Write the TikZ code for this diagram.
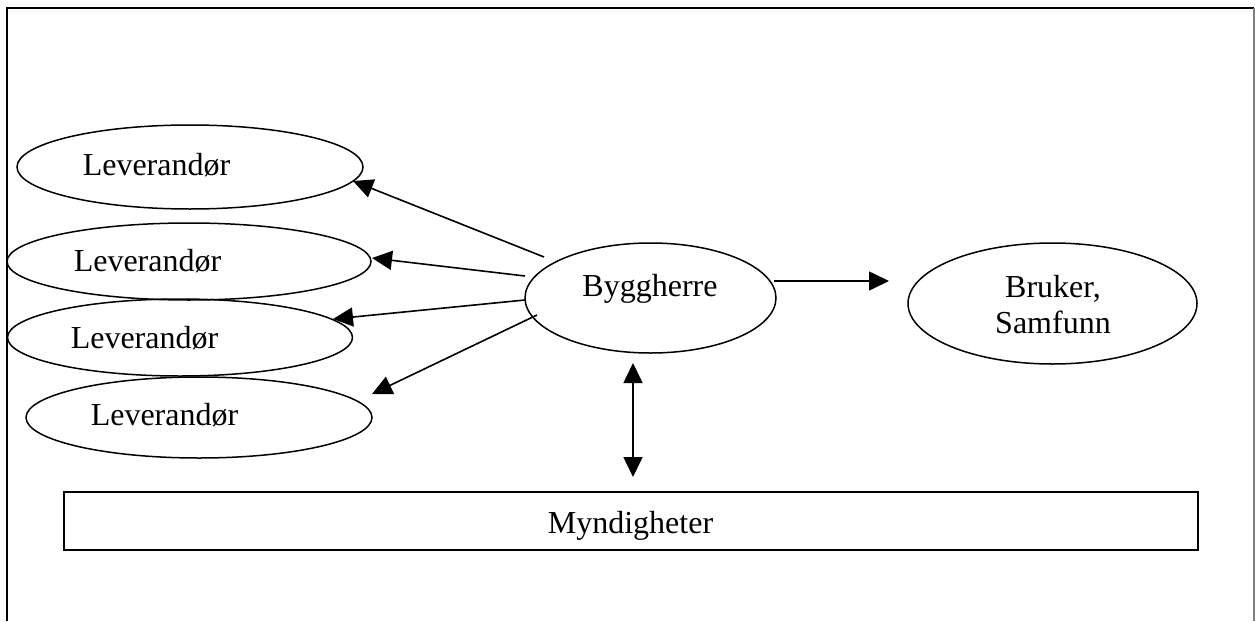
\documentclass[tikz,border=0pt]{standalone}
\usepackage{fontspec}
\setmainfont{Liberation Serif}
\usetikzlibrary{shapes.geometric,arrows.meta}
\begin{document}
\begin{tikzpicture}[x=1pt,y=-1pt,
  party/.style={draw,ellipse,line width=1.5pt,inner sep=0pt},
  lbl/.style={font=\fontsize{32}{36}\selectfont,inner sep=0pt,anchor=base},
  link/.style={line width=1.6pt,-{Triangle[length=20pt,width=19pt]}},
  link2/.style={line width=1.6pt,{Triangle[length=20pt,width=19pt]}-{Triangle[length=20pt,width=19pt]}}]
\useasboundingbox (0,0) rectangle (1255,621);
% outer frame (open at the bottom)
\draw[line width=2pt] (7,621) -- (7,8) -- (1254,8);
\draw[line width=1.2pt,gray] (1254,8) -- (1254,621);

% suppliers
\node[party,minimum width=346pt,minimum height=84pt] (lev1) at (190,167) {};
\node[lbl] (lev1t) at (156.5,175) {Leverandør};
\node[party,minimum width=364pt,minimum height=77pt] (lev2) at (189,261.5) {};
\node[lbl] (lev2t) at (147.5,271.5) {Leverandør};
\node[party,minimum width=345pt,minimum height=77pt] (lev3) at (180,337.5) {};
\node[lbl] (lev3t) at (144.5,348) {Leverandør};
\node[party,minimum width=346pt,minimum height=81pt] (lev4) at (199,417.5) {};
\node[lbl] (lev4t) at (164.5,425) {Leverandør};

% client and users
\node[party,minimum width=251pt,minimum height=110pt] (bh) at (650.5,298) {};
\node[lbl] (bht) at (650,296) {Byggherre};
\node[party,minimum width=289pt,minimum height=121pt] (bruk) at (1052.5,303.5) {};
\node[lbl] (brukt1) at (1053,297) {Bruker,};
\node[lbl] (brukt2) at (1053,333) {Samfunn};

% authorities
\node[draw,line width=1.6pt,minimum width=1134pt,minimum height=58pt,inner sep=0pt] (myn) at (631,521) {};
\node[lbl] (mynt) at (630.5,533) {Myndigheter};

% connector end points
\coordinate (s1) at (544,257);
\coordinate (t1) at (353,181);
\coordinate (s2) at (525,276);
\coordinate (t2) at (372,258);
\coordinate (s3) at (525,300);
\coordinate (t3) at (333,319);
\coordinate (s4) at (537,315);
\coordinate (t4) at (372,394);
\coordinate (s5) at (774,281);
\coordinate (t5) at (889,281);
\coordinate (s6) at (633,363);
\coordinate (t6) at (633,477);

\draw[link] (s1) -- (t1);
\draw[link] (s2) -- (t2);
\draw[link] (s3) -- (t3);
\draw[link] (s4) -- (t4);
\draw[link] (s5) -- (t5);
\draw[link2] (s6) -- (t6);
\end{tikzpicture}
\end{document}
